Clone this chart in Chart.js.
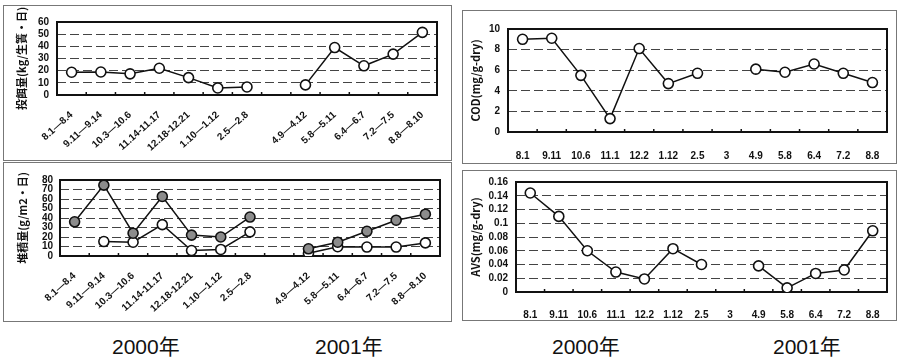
<!DOCTYPE html>
<html><head><meta charset="utf-8">
<script src="https://cdn.jsdelivr.net/npm/chart.js@4.4.0/dist/chart.umd.min.js"></script>
<style>
body{margin:0;background:#fff;width:899px;height:362px;overflow:hidden;position:relative;font-family:"Liberation Sans","Noto Sans CJK JP",sans-serif;}
canvas{position:absolute;}
.frame{position:absolute;border:1px solid #777;box-sizing:border-box;}
.year{position:absolute;font-size:21px;line-height:21px;top:336px;color:#111;white-space:nowrap;}
</style></head><body>
<div class="frame" style="left:3px;top:5px;width:449px;height:156px;"></div>
<div class="frame" style="left:3px;top:162px;width:449px;height:160px;"></div>
<div class="frame" style="left:462px;top:10px;width:435px;height:154px;"></div>
<div class="frame" style="left:462px;top:170px;width:435px;height:151px;"></div>
<canvas id="c1" width="450" height="160" style="left:0;top:0"></canvas>
<canvas id="c2" width="450" height="165" style="left:0;top:160px"></canvas>
<canvas id="c3" width="449" height="165" style="left:450px;top:0"></canvas>
<canvas id="c4" width="449" height="160" style="left:450px;top:165px"></canvas>
<div class="year" id="y1" style="left:112px"></div>
<div class="year" id="y2" style="left:315px"></div>
<div class="year" id="y3" style="left:552px"></div>
<div class="year" id="y4" style="left:773px"></div>
<script>
// ---- data ----
const periodLabels = ["8.1—8.4","9.11—9.14","10.3—10.6","11.14-11.17","12.18-12.21","1.10—1.12","2.5—2.8","","4.9—4.12","5.8—5.11","6.4—6.7","7.2—7.5","8.8—8.10"];
const feedValues   = [18.7, 18.9, 17.4, 22.0, 14.3, 5.8, 6.6, null, 8.3, 39.0, 24.0, 33.6, 51.5];
const depositGray  = [36.0, 74.6, 24.0, 62.7, 22.0, 20.0, 41.0, null, 7.6, 14.5, 26.0, 37.7, 44.0];
const depositWhite = [null, 15.2, 14.5, 33.0, 5.8, 6.9, 25.4, null, 2.9, 9.8, 9.4, 9.4, 13.8];
const sampleLabels = ["8.1","9.11","10.6","11.1","12.2","1.12","2.5","3","4.9","5.8","6.4","7.2","8.8"];
const codValues    = [9.0, 9.1, 5.5, 1.3, 8.1, 4.7, 5.7, null, 6.1, 5.8, 6.6, 5.7, 4.8];
const avsValues    = [0.144, 0.110, 0.060, 0.029, 0.019, 0.063, 0.040, null, 0.038, 0.006, 0.027, 0.032, 0.089];
const feedTicks    = ["0","10","20","30","40","50","60"];
const depositTicks = ["0","10","20","30","40","50","60","70","80"];
const codTicks     = ["0","2","4","6","8","10"];
const avsTicks     = ["0","0.02","0.04","0.06","0.08","0.1","0.12","0.14","0.16"];
const yearLabels   = ["2000年","2001年","2000年","2001年"];
const titles = {
  feed: "投餌量(kg/生簀・日)",
  deposit: "堆積量(g/m2・日)",
  cod: "COD(mg/g-dry)",
  avs: "AVS(mg/g-dry)"
};

yearLabels.forEach((t,i)=>{document.getElementById('y'+(i+1)).textContent=t;});

const FONT = '"Liberation Sans","Noto Sans CJK JP",sans-serif';
const JFONT = '"Noto Sans CJK JP","Liberation Sans",sans-serif';

const framePlugin = {
  id:'frame',
  beforeDatasetsDraw(chart){
    const {ctx, chartArea:a, scales:{x}} = chart;
    ctx.save();
    ctx.strokeStyle='#111'; ctx.lineWidth=2;
    ctx.strokeRect(a.left,a.top,a.right-a.left,a.bottom-a.top);
    ctx.lineWidth=1.5;
    for(let i=1;i<chart.data.labels.length;i++){
      const px=(x.getPixelForValue(i-1)+x.getPixelForValue(i))/2;
      ctx.beginPath(); ctx.moveTo(px,a.bottom); ctx.lineTo(px,a.bottom-3); ctx.stroke();
    }
    ctx.restore();
  }
};

function ds(data, fill){
  return {data, borderColor:'#111', borderWidth:1.5, pointRadius:5, pointBorderWidth:1.6,
    pointBorderColor:'#111', pointBackgroundColor:fill, spanGaps:false, tension:0};
}

function makeChart(id, labels, datasets, c){
  return new Chart(document.getElementById(id), {
    type:'line',
    data:{labels, datasets},
    options:{
      responsive:false, animation:false, devicePixelRatio:1,
      layout:{padding:c.padding},
      plugins:{legend:{display:false}, tooltip:{enabled:false}},
      scales:{
        x:{offset:true, grid:{display:false}, border:{display:false},
          ticks:{autoSkip:false, maxRotation:c.rot, minRotation:c.rot, padding:c.xpad, color:'#111',
            font:{family:FONT, size:c.xfs, weight:'bold'}},
          afterFit:s=>{s.height=c.xh;}},
        y:{min:0, max:c.max,
          ticks:{stepSize:c.step, autoSkip:false, padding:c.ypad, color:'#111',
            font:{family:FONT, size:10, weight:'bold'},
            callback:(v,i)=>c.ticks[i]},
          grid:{color:'#444', lineWidth:1, drawTicks:false},
          border:{display:false, dash:[9,4]},
          title:{display:true, text:c.title, color:'#111', padding:{top:c.tpad,bottom:0},
            font:{family:JFONT, size:11, weight:'bold'}},
          afterFit:s=>{s.width=c.yw;}}
      }
    },
    plugins:[framePlugin]
  });
}

makeChart('c1', periodLabels, [ds(feedValues,'#fff')],
  {padding:{left:0,top:22,right:13,bottom:0}, rot:42, xpad:6, xfs:10, xh:65, max:60, step:10, ticks:feedTicks, ypad:8, yw:57, title:titles.feed, tpad:15});
makeChart('c2', periodLabels, [ds(depositGray,'#8c8c8c'), ds(depositWhite,'#fff')],
  {padding:{left:0,top:20,right:10,bottom:0}, rot:42, xpad:6, xfs:10, xh:69, max:80, step:10, ticks:depositTicks, ypad:7, yw:60, title:titles.deposit, tpad:16});
makeChart('c3', sampleLabels, [ds(codValues,'#fff')],
  {padding:{left:0,top:29,right:12,bottom:0}, rot:0, xpad:10, xfs:10, xh:33, max:10, step:2, ticks:codTicks, ypad:8, yw:58, title:titles.cod, tpad:19});
makeChart('c4', sampleLabels, [ds(avsValues,'#fff')],
  {padding:{left:0,top:17,right:12,bottom:0}, rot:0, xpad:9, xfs:10, xh:33, max:0.16, step:0.02, ticks:avsTicks, ypad:8, yw:66, title:titles.avs, tpad:19});
</script>
</body></html>
